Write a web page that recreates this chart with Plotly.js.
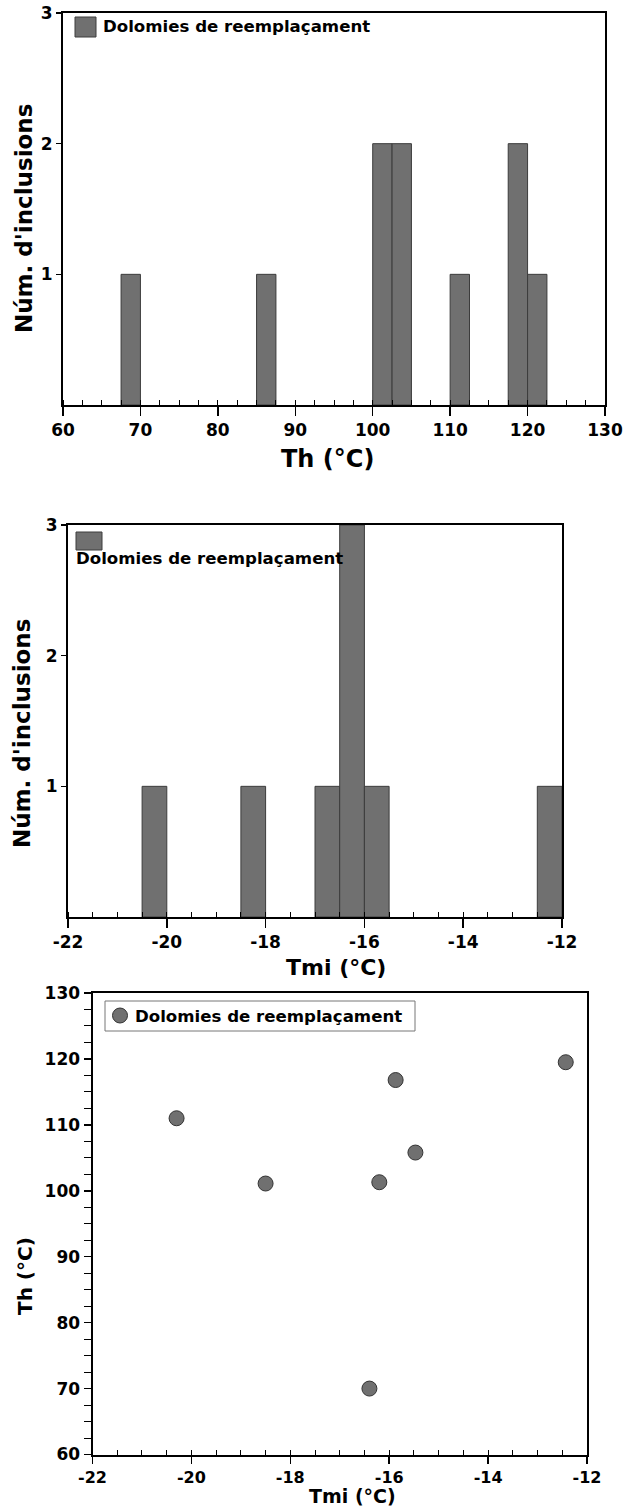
<!DOCTYPE html>
<html>
<head>
<meta charset="utf-8">
<script src="https://cdn.plot.ly/plotly-3.0.1.min.js"></script>
<style>
  html, body { margin: 0; padding: 0; background: #ffffff; }
  #chart { width: 628px; height: 1508px; }
</style>
</head>
<body>
<div id="chart"></div>
<script>
// Series name shared by the three panels
const seriesName = 'Dolomies de reemplaçament';

// Histogram of homogenisation temperatures (bin start, count)
const thBinStart = [67.5, 85, 100, 102.5, 110, 117.5, 120];
const thCounts   = [1, 1, 2, 2, 1, 2, 1];

// Histogram of last-ice melting temperatures (bin start, count)
const tmiBinStart = [-20.5, -18.5, -17, -16.5, -16, -12.5];
const tmiCounts   = [1, 1, 1, 3, 1, 1];

// Paired measurements: Tmi vs Th
const pairTmi = [-20.3, -18.5, -16.2, -15.87, -15.47, -12.43, -16.4];
const pairTh  = [111.0, 101.1, 101.3, 116.8, 105.8, 119.5, 70.0];

// Tick labels
const countTicks = [1, 2, 3];
const tmiTickVals = [-22, -20, -18, -16, -14, -12];
const tmiTickText = ['-22', '-20', '-18', '-16', '-14', '-12'];

// Axis texts
const countTitle = "Núm. d'inclusions";
const thTitle = 'Th (°C)';
const tmiTitle = 'Tmi (°C)';

const W = 628, H = 1508;
const px = v => v / W;           // pixel column -> paper x
const py = v => 1 - v / H;       // pixel row -> paper y

const FONT = 'DejaVu Sans, Liberation Sans, Arial, sans-serif';
const BAR_FILL = '#707070';
const BAR_EDGE = '#3c3c3c';

const bold = (size) => ({ family: FONT, size: size, color: '#000', weight: 700 });

function baseAxis(extra) {
  return Object.assign({
    showline: true, linecolor: '#000', linewidth: 2, mirror: true,
    showgrid: false, zeroline: false,
    ticks: 'outside', tickcolor: '#000', tickwidth: 1.5,
    tickfont: bold(17),
    fixedrange: true
  }, extra);
}

const traces = [
  {
    type: 'bar', x: thBinStart, y: thCounts, width: 2.5, offset: 0,
    marker: { color: BAR_FILL, line: { color: BAR_EDGE, width: 1 } },
    xaxis: 'x', yaxis: 'y', name: seriesName, showlegend: false
  },
  {
    type: 'bar', x: tmiBinStart, y: tmiCounts, width: 0.5, offset: 0,
    marker: { color: BAR_FILL, line: { color: BAR_EDGE, width: 1 } },
    xaxis: 'x2', yaxis: 'y2', name: seriesName, showlegend: false
  },
  {
    type: 'scatter', mode: 'markers', x: pairTmi, y: pairTh,
    marker: { size: 15, color: BAR_FILL, line: { color: '#333333', width: 1 } },
    xaxis: 'x3', yaxis: 'y3', name: seriesName, showlegend: false
  }
];

// Axis title placed as rotated/horizontal text at a pixel position
function title(text, x, y, size, vertical) {
  return {
    xref: 'paper', yref: 'paper', x: px(x), y: py(y),
    xanchor: 'center', yanchor: 'middle', showarrow: false,
    text: text, textangle: vertical ? -90 : 0, font: bold(size)
  };
}

// Key text next to a swatch
function keyText(x, y) {
  return {
    xref: 'paper', yref: 'paper', x: px(x), y: py(y),
    xanchor: 'left', yanchor: 'middle', showarrow: false,
    text: seriesName, font: bold(16.6)
  };
}

const layout = {
  width: W, height: H,
  margin: { l: 0, r: 0, t: 0, b: 0 },
  paper_bgcolor: '#ffffff', plot_bgcolor: '#ffffff',
  showlegend: false,
  bargap: 0,

  // Panel 1: Th histogram
  xaxis: baseAxis({
    domain: [px(63), px(605)], anchor: 'y',
    range: [60, 130], dtick: 10, tick0: 60, ticklen: 9,
    minor: { dtick: 2.5, ticks: 'inside', ticklen: 5, tickcolor: '#000', tickwidth: 1 }
  }),
  yaxis: baseAxis({
    domain: [py(405), py(13)], anchor: 'x',
    range: [0, 3], tickvals: countTicks, ticklen: 5
  }),

  // Panel 2: Tmi histogram
  xaxis2: baseAxis({
    domain: [px(68), px(562)], anchor: 'y2',
    range: [-22, -12], tickvals: tmiTickVals, ticktext: tmiTickText, ticklen: 9,
    minor: { dtick: 0.5, tick0: -22, ticks: 'inside', ticklen: 5, tickcolor: '#000', tickwidth: 1 }
  }),
  yaxis2: baseAxis({
    domain: [py(917), py(525)], anchor: 'x2',
    range: [0, 3], tickvals: countTicks, ticklen: 5
  }),

  // Panel 3: Tmi vs Th
  xaxis3: baseAxis({
    domain: [px(92.5), px(587)], anchor: 'y3',
    range: [-22, -12], tickvals: tmiTickVals, ticktext: tmiTickText, ticklen: 7,
    tickfont: bold(16),
    minor: { dtick: 0.5, tick0: -22, ticks: 'inside', ticklen: 5, tickcolor: '#000', tickwidth: 1 }
  }),
  yaxis3: baseAxis({
    domain: [py(1454.5), py(993)], anchor: 'x3',
    range: [60, 130], dtick: 10, tick0: 60, ticklen: 7,
    minor: { dtick: 2.5, ticks: 'outside', ticklen: 7, tickcolor: '#000', tickwidth: 1 }
  }),

  // Key swatches for each panel
  shapes: [
    { type: 'rect', xref: 'paper', yref: 'paper',
      x0: px(75), x1: px(96), y0: py(37), y1: py(17),
      fillcolor: BAR_FILL, line: { color: BAR_EDGE, width: 1 } },
    { type: 'rect', xref: 'paper', yref: 'paper',
      x0: px(76), x1: px(102), y0: py(550), y1: py(532),
      fillcolor: BAR_FILL, line: { color: BAR_EDGE, width: 1 } },
    { type: 'rect', xref: 'paper', yref: 'paper',
      x0: px(105), x1: px(415), y0: py(1031), y1: py(1001),
      fillcolor: '#ffffff', line: { color: '#777777', width: 1 } },
    { type: 'circle', xref: 'paper', yref: 'paper',
      x0: px(112.5), x1: px(127.5), y0: py(1023), y1: py(1008),
      fillcolor: BAR_FILL, line: { color: '#333333', width: 1 } }
  ],

  annotations: [
    keyText(101, 27),
    keyText(74, 558),
    keyText(133, 1016),
    title(thTitle, 327, 459, 24, false),
    title(countTitle, 24, 219, 23, true),
    title(tmiTitle, 336, 967, 22, false),
    title(countTitle, 22, 734, 23, true),
    title(tmiTitle, 352, 1496, 19, false),
    title(thTitle, 25, 1276, 20, true)
  ]
};

Plotly.newPlot('chart', traces, layout, { displayModeBar: false, staticPlot: true });
</script>
</body>
</html>
